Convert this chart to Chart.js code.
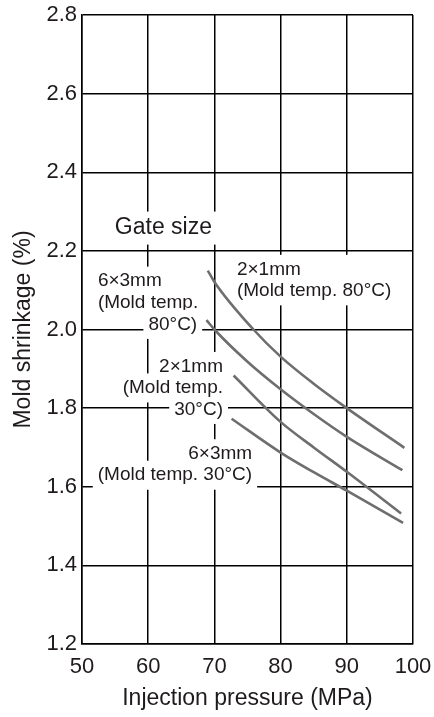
<!DOCTYPE html>
<html>
<head>
<meta charset="utf-8">
<style>
  html, body { margin: 0; padding: 0; background: #fff; }
  #wrap { width: 434px; height: 717px; }
</style>
</head>
<body>
<div id="wrap"><canvas id="chart" width="434" height="717"></canvas></div>
<script src="https://cdn.jsdelivr.net/npm/chart.js@4.4.1/dist/chart.umd.min.js"></script>
<script>
// Axis ticks
const xTicks = [50, 60, 70, 80, 90, 100];
const yTicks = [1.2, 1.4, 1.6, 1.8, 2.0, 2.2, 2.4, 2.6, 2.8];

// Curves (injection pressure MPa -> mold shrinkage %)
const press2x1Hot = [69, 70, 75.9, 80, 85, 90, 98.7];
const shrink2x1Hot = [2.15, 2.121, 2.0, 1.931, 1.862, 1.8, 1.699];

const press6x3Hot = [68.8, 70, 75, 80, 85, 90, 98.4];
const shrink6x3Hot = [2.024, 2.0, 1.918, 1.848, 1.785, 1.727, 1.642];

const press2x1Cold = [72.9, 80, 85, 90, 98.2];
const shrink2x1Cold = [1.883, 1.765, 1.70, 1.638, 1.532];

const press6x3Cold = [72.6, 80, 85, 90, 98.5];
const shrink6x3Cold = [1.773, 1.687, 1.637, 1.59, 1.508];

const INK = '#1f1b1c';
const FONT = '"Liberation Sans", Arial, Helvetica, sans-serif';

function toPoints(xs, ys) {
    return xs.map((x, i) => ({ x: x, y: ys[i] }));
}

function curve(xs, ys) {
    return {
        data: toPoints(xs, ys),
        borderColor: '#6e6e6e',
        borderWidth: 2.6,
        pointRadius: 0,
        fill: false,
        showLine: true,
        cubicInterpolationMode: 'monotone'
    };
}

// In-plot annotations, white boxes knock out the grid behind the text
const notes = [
    { lines: ['Gate size'], x: 62.3, y: 2.258, align: 'center', size: 23 },
    { lines: ['6×3mm', '(Mold temp.'], x: 52.4, y: 2.123, align: 'left', size: 19 },
    { lines: ['80°C)'], x: 67.4, y: 2.013, align: 'right', size: 19 },
    { lines: ['2×1mm', '(Mold temp. 80°C)'], x: 73.4, y: 2.153, align: 'left', size: 19, joined: true },
    { lines: ['2×1mm', '(Mold temp.', '30°C)'], x: 71.3, y: 1.906, align: 'right', size: 19 },
    { lines: ['6×3mm', '(Mold temp. 30°C)'], x: 75.7, y: 1.684, align: 'right', size: 19 }
];

const notesPlugin = {
    id: 'notes',
    beforeDatasetsDraw(chart) {
        const ctx = chart.ctx;
        const xs = chart.scales.x;
        const ys = chart.scales.y;
        const step = 21.5;
        const padX = 5;
        const padY = 5;
        ctx.save();
        notes.forEach(note => {
            ctx.font = note.size + 'px ' + FONT;
            const ax = xs.getPixelForValue(note.x);
            const ay = ys.getPixelForValue(note.y);
            const boxes = note.lines.map((text, i) => {
                const w = ctx.measureText(text).width;
                let left = ax;
                if (note.align === 'right') left = ax - w;
                if (note.align === 'center') left = ax - w / 2;
                const cy = ay + i * step;
                return { text, left, w, cy };
            });
            ctx.fillStyle = '#fff';
            if (note.joined) {
                const l = Math.min(...boxes.map(b => b.left)) - padX;
                const r = Math.max(...boxes.map(b => b.left + b.w)) + padX;
                const t = boxes[0].cy - note.size / 2 - padY;
                const btm = boxes[boxes.length - 1].cy + note.size / 2 + padY;
                ctx.fillRect(l, t, r - l, btm - t);
            } else {
                boxes.forEach(b => {
                    ctx.fillRect(b.left - padX, b.cy - note.size / 2 - padY, b.w + 2 * padX, note.size + 2 * padY);
                });
            }
            ctx.fillStyle = INK;
            ctx.textBaseline = 'middle';
            ctx.textAlign = 'left';
            boxes.forEach(b => ctx.fillText(b.text, b.left, b.cy));
        });
        ctx.restore();
    }
};

new Chart(document.getElementById('chart').getContext('2d'), {
    type: 'scatter',
    data: {
        datasets: [
            curve(press2x1Hot, shrink2x1Hot),
            curve(press6x3Hot, shrink6x3Hot),
            curve(press2x1Cold, shrink2x1Cold),
            curve(press6x3Cold, shrink6x3Cold)
        ]
    },
    options: {
        responsive: false,
        animation: false,
        layout: { padding: { left: 0, right: 21, top: 15, bottom: 0 } },
        plugins: {
            legend: { display: false },
            tooltip: { enabled: false }
        },
        scales: {
            x: {
                type: 'linear',
                min: 50,
                max: 100,
                afterBuildTicks: scale => { scale.ticks = xTicks.map(v => ({ value: v })); },
                afterFit: scale => {
                    scale.height = 73;
                    scale.paddingLeft = 0;
                    scale.paddingRight = 0;
                },
                grid: { color: '#000', lineWidth: 1.5, drawTicks: false },
                border: { color: '#000', width: 1.5 },
                ticks: {
                    color: INK,
                    padding: 10,
                    maxRotation: 0,
                    font: { family: FONT, size: 22 }
                },
                title: {
                    display: true,
                    text: 'Injection pressure (MPa)',
                    color: INK,
                    font: { family: FONT, size: 23 },
                    padding: { top: 0, bottom: 5 }
                }
            },
            y: {
                type: 'linear',
                min: 1.2,
                max: 2.8,
                afterBuildTicks: scale => { scale.ticks = yTicks.map(v => ({ value: v })); },
                afterFit: scale => {
                    scale.width = 82;
                    scale.paddingTop = 0;
                    scale.paddingBottom = 0;
                },
                grid: { color: '#000', lineWidth: 1.5, drawTicks: false },
                border: { color: '#000', width: 1.5 },
                ticks: {
                    color: INK,
                    padding: 5,
                    font: { family: FONT, size: 22 },
                    callback: v => v.toFixed(1)
                },
                title: {
                    display: true,
                    text: 'Mold shrinkage (%)',
                    color: INK,
                    font: { family: FONT, size: 23 },
                    padding: { top: 10, bottom: 0 }
                }
            }
        }
    },
    plugins: [notesPlugin]
});
</script>
</body>
</html>
